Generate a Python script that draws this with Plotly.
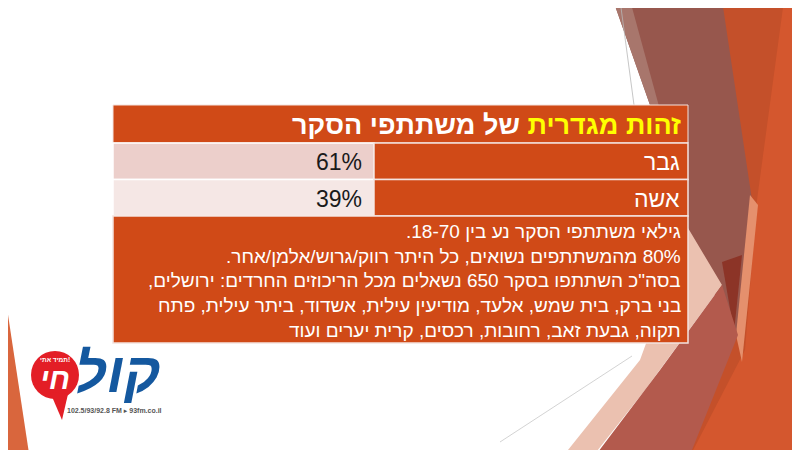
import plotly.graph_objects as go

# slide data
categories = ["גבר", "אשה"]
shares = [61, 39]
title_highlight = "זהות מגדרית"
title_rest = "של משתתפי הסקר"
notes = [
    "גילאי משתתפי הסקר נע בין 18-70.",
    "80% מהמשתתפים נשואים, כל היתר רווק/גרוש/אלמן/אחר.",
    "בסה\"כ השתתפו בסקר 650 נשאלים מכל הריכוזים החרדים: ירושלים,",
    "בני ברק, בית שמש, אלעד, מודיעין עילית, אשדוד, ביתר עילית, פתח",
    "תקוה, גבעת זאב, רחובות, רכסים, קרית יערים ועוד",
]

ORANGE = "#D04A17"
CELL_BG = ["#ECCFCB", "#F5E7E5"]
FONT = "Liberation Sans, DejaVu Sans, Arial"


def rtl(s):
    # wrap in a right-to-left embedding so punctuation lands on the correct side
    return "\u202B" + s + "\u202C"


def path(pts):
    return "M " + " L ".join(f"{x},{y}" for x, y in pts) + " Z"


fig = go.Figure()
shapes = []
ann = []

# background decoration (slide theme facets)
facets = [
    ([(720, 0), (810, 0), (810, 460), (680, 460), (735, 330)], "#C4502A"),
    ([(784, 0), (810, 0), (810, 460), (688, 460), (745, 350), (757, 200)], "#D4572E"),
    ([(613, 0), (722, 0), (752, 200), (738, 335), (700, 270), (650, 105)], "#97574D"),
    ([(613, 0), (630, 0), (660, 110), (650, 105)], "#A8766C"),
    ([(750, 195), (758, 205), (742, 362), (736, 335)], "#E5906D"),
    ([(722, 262), (742, 255), (734, 332)], "#8C3427"),
    ([(688, 228), (722, 285), (645, 390), (590, 460), (560, 460), (640, 360)], "#EBC1B0"),
    ([(722, 285), (738, 335), (688, 460), (592, 460), (660, 370)], "#B35A4D"),
    ([(0, 262), (30, 460), (0, 460)], "#D9663D"),
]
for pts, col in facets:
    shapes.append(dict(type="path", path=path(pts), fillcolor=col,
                       line=dict(width=0), layer="below"))
shapes.append(dict(type="line", x0=620, y0=0, x1=634, y1=105,
                   line=dict(color="#B8B8B8", width=0.8), layer="below"))
shapes.append(dict(type="line", x0=500, y0=442, x1=632, y1=356,
                   line=dict(color="#C8C8C8", width=0.8), layer="below"))

# table
x0, x1, xs = 113, 688, 374
top, head_h, row_h = 105, 38, 36.5
shapes.append(dict(type="rect", x0=x0, x1=x1, y0=top, y1=top + head_h,
                   fillcolor=ORANGE, line=dict(color="#F3E3DF", width=1)))
ann.append(dict(x=x1 - 5, y=top + head_h / 2 + 1, xanchor="right", yanchor="middle",
                text=rtl(f"<b><span style='color:#FFFF00'>{title_highlight}</span> {title_rest}</b>"),
                font=dict(size=27, color="white", family=FONT), showarrow=False))

y = top + head_h
for i, (cat, val) in enumerate(zip(categories, shares)):
    shapes.append(dict(type="rect", x0=x0, x1=xs, y0=y, y1=y + row_h,
                       fillcolor=CELL_BG[i], line=dict(color="white", width=1.5)))
    shapes.append(dict(type="rect", x0=xs, x1=x1, y0=y, y1=y + row_h,
                       fillcolor=ORANGE, line=dict(color="#F3E3DF", width=1.5)))
    ann.append(dict(x=xs - 10, y=y + row_h / 2 + 1, xanchor="right", yanchor="middle",
                    text=f"{val}%", font=dict(size=23, color="#1A1A1A", family=FONT),
                    showarrow=False))
    ann.append(dict(x=x1 - 6, y=y + row_h / 2 + 1, xanchor="right", yanchor="middle",
                    text=cat, font=dict(size=23, color="white", family=FONT),
                    showarrow=False))
    y += row_h

shapes.append(dict(type="rect", x0=x0, x1=x1, y0=y, y1=343,
                   fillcolor=ORANGE, line=dict(color="#F3E3DF", width=1.5)))
for j, line in enumerate(notes):
    ann.append(dict(x=x1 - 5, y=y + 15.5 + j * 24.7, xanchor="right", yanchor="middle",
                    text=rtl(line), font=dict(size=19, color="white", family=FONT),
                    showarrow=False))

# radio logo
shapes.append(dict(type="circle", x0=31, x1=79, y0=351, y1=399,
                   fillcolor="#E31E26", line=dict(width=0)))
shapes.append(dict(type="path", path=path([(50, 392), (68, 394), (62, 420)]),
                   fillcolor="#E31E26", line=dict(width=0)))
ann.append(dict(x=55, y=378, text="<b><i>חי</i></b>", showarrow=False,
                font=dict(size=30, color="white", family=FONT)))
ann.append(dict(x=55, y=359, text="<b>תמיד אתי!</b>", showarrow=False,
                font=dict(size=6.5, color="white", family=FONT)))
ann.append(dict(x=118, y=372, text="<b><i>קול</i></b>", showarrow=False,
                font=dict(size=56, color="#14589F", family=FONT)))
ann.append(dict(x=114, y=410, text="<b>102.5/93/92.8 FM ▸ 93fm.co.il</b>", showarrow=False,
                font=dict(size=7, color="#555555", family=FONT)))

# page body adds an 8px offset, so shift the ranges to keep pixel coordinates
fig.update_layout(
    width=800, height=450,
    margin=dict(l=0, r=0, t=0, b=0),
    paper_bgcolor="white", plot_bgcolor="white",
    xaxis=dict(range=[8, 808], visible=False, fixedrange=True),
    yaxis=dict(range=[458, 8], visible=False, fixedrange=True),
    shapes=shapes, annotations=ann, showlegend=False,
)

fig.write_html("out.html")
